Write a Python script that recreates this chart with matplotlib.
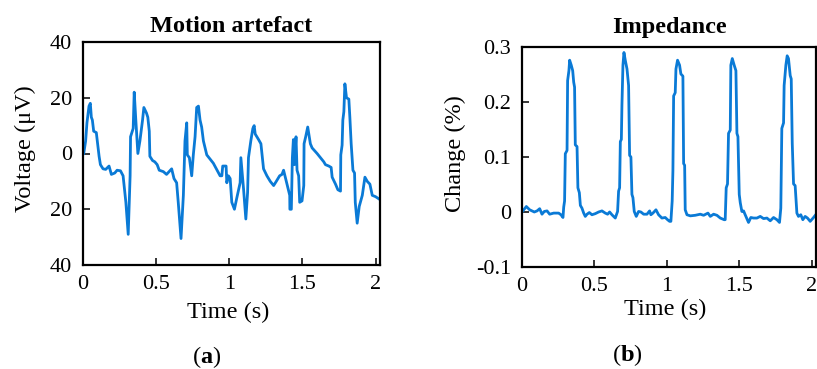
import numpy as np
import matplotlib
matplotlib.use("Agg")
import matplotlib.pyplot as plt

plt.rcParams["font.family"] = ["Liberation Serif", "DejaVu Serif"]
plt.rcParams["mathtext.fontset"] = "custom"
plt.rcParams["mathtext.rm"] = "Liberation Serif"
plt.rcParams["mathtext.bf"] = "Liberation Serif:bold"

# (a) motion artefact, voltage in uV
t_motion = [
    0.005, 0.018, 0.027, 0.041, 0.050, 0.057, 0.064, 0.073, 0.091, 0.103,
    0.110, 0.119, 0.137, 0.155, 0.178, 0.194, 0.217, 0.233, 0.256, 0.274,
    0.293, 0.309, 0.322, 0.325, 0.343, 0.350, 0.361, 0.375, 0.389, 0.407,
    0.416, 0.434, 0.443, 0.453, 0.457, 0.475, 0.491, 0.507, 0.521, 0.549,
    0.571, 0.606, 0.622, 0.640, 0.651, 0.670, 0.686, 0.697, 0.709, 0.713,
    0.727, 0.743, 0.754, 0.766, 0.777, 0.789, 0.800, 0.811, 0.823, 0.846,
    0.891, 0.937, 0.949, 0.955, 0.978, 0.983, 0.994, 1.006, 1.017, 1.035,
    1.051, 1.074, 1.079, 1.097, 1.113, 1.125, 1.131, 1.147, 1.161, 1.170,
    1.177, 1.200, 1.216, 1.234, 1.257, 1.280, 1.303, 1.321, 1.344, 1.360,
    1.371, 1.385, 1.399, 1.413, 1.414, 1.424, 1.431, 1.438, 1.445, 1.456,
    1.463, 1.474, 1.481, 1.497, 1.509, 1.511, 1.522, 1.536, 1.554, 1.566,
    1.600, 1.646, 1.657, 1.680, 1.696, 1.703, 1.726, 1.742, 1.760, 1.762,
    1.771, 1.776, 1.783, 1.790, 1.801, 1.817, 1.824, 1.833, 1.845, 1.856,
    1.861, 1.874, 1.888, 1.909, 1.927, 1.943, 1.961, 1.977, 2.000, 2.023,
]
v_motion = [
    0.0, 4.5, 11, 17, 18, 13, 12, 8, 7.5, 2,
    -1, -4, -5.5, -5.7, -4.5, -7.5, -7, -6, -6.2, -8,
    -17.5, -29, -8, 6, 9, 22, 12, 0, 4.5, 12,
    16.5, 14.5, 13, 8, -1, -2.5, -3, -4, -6, -6.5,
    -7.5, -5.5, -9, -10.5, -17.5, -30.5, -15, 4.5, 11, -0.5,
    -1.5, -8, -0.5, 6, 16.5, 17, 12, 9.5, 4.5, -0.5,
    -3.5, -8, -8, -4.5, -4.5, -10.5, -8, -9, -17.5, -20,
    -16, -10.5, -1.5, -12.5, -23.5, -14, -1.5, 4.5, 9, 10,
    7, 5, 3.5, -5.5, -8, -10, -11.5, -10, -8, -7.5,
    -6, -9, -12, -15, -20, -20, -1.5, 5, -4, 6,
    -6, -8, -17.5, -17, -11.5, 3.5, 6, 9.5, 3.5, 2,
    0, -3, -4, -4.5, -5, -8.5, -11, -13, -13.5, -0.5,
    3, 12, 15, 25, 20, 19.5, 13, 3.5, -6, -7,
    -17.5, -25, -19, -15, -8.5, -10, -11, -15, -15.5, -16.3,
]

# (b) impedance change in %
t_imp = [
    0.000, 0.012, 0.030, 0.053, 0.085, 0.104, 0.122, 0.138, 0.154, 0.173,
    0.191, 0.219, 0.253, 0.269, 0.283, 0.288, 0.294, 0.299, 0.311, 0.315,
    0.324, 0.329, 0.340, 0.350, 0.357, 0.363, 0.368, 0.380, 0.386, 0.396,
    0.403, 0.414, 0.426, 0.437, 0.449, 0.465, 0.483, 0.506, 0.529, 0.552,
    0.575, 0.591, 0.605, 0.621, 0.644, 0.660, 0.667, 0.674, 0.679, 0.686,
    0.690, 0.697, 0.704, 0.713, 0.725, 0.736, 0.743, 0.752, 0.759, 0.766,
    0.775, 0.789, 0.805, 0.821, 0.840, 0.863, 0.881, 0.890, 0.904, 0.925,
    0.943, 0.966, 0.989, 1.005, 1.019, 1.028, 1.037, 1.042, 1.047, 1.058,
    1.063, 1.074, 1.088, 1.097, 1.111, 1.116, 1.123, 1.127, 1.139, 1.162,
    1.196, 1.231, 1.254, 1.284, 1.300, 1.323, 1.346, 1.369, 1.396, 1.403,
    1.410, 1.419, 1.426, 1.438, 1.442, 1.452, 1.465, 1.477, 1.484, 1.491,
    1.500, 1.507, 1.518, 1.530, 1.541, 1.564, 1.580, 1.599, 1.622, 1.645,
    1.668, 1.691, 1.714, 1.737, 1.760, 1.778, 1.787, 1.794, 1.806, 1.810,
    1.822, 1.831, 1.840, 1.852, 1.859, 1.866, 1.875, 1.886, 1.898, 1.909,
    1.925, 1.939, 1.955, 1.971, 1.990, 2.013, 2.031,
]
c_imp = [
    0.000, 0.004, 0.010, 0.004, 0.000, 0.002, 0.006, -0.004, 0.001, 0.002,
    -0.004, -0.002, -0.002, -0.005, -0.010, 0.009, 0.020, 0.106, 0.112, 0.239,
    0.257, 0.276, 0.267, 0.257, 0.236, 0.227, 0.122, 0.119, 0.044, 0.035,
    0.012, 0.007, -0.002, -0.008, -0.004, -0.001, -0.005, -0.003, 0.000, 0.002,
    -0.002, -0.004, 0.000, -0.005, -0.011, 0.001, 0.038, 0.044, 0.128, 0.132,
    0.194, 0.267, 0.290, 0.276, 0.260, 0.230, 0.103, 0.100, 0.032, 0.026,
    0.001, -0.008, 0.001, 0.000, -0.004, -0.004, 0.002, -0.005, -0.002, 0.004,
    -0.005, -0.011, -0.010, -0.014, -0.017, -0.017, 0.020, 0.075, 0.211, 0.217,
    0.260, 0.276, 0.267, 0.251, 0.247, 0.088, 0.085, 0.004, -0.005, -0.007,
    -0.006, -0.004, -0.006, -0.002, -0.008, -0.004, -0.006, -0.011, -0.014, -0.014,
    0.044, 0.051, 0.143, 0.149, 0.267, 0.279, 0.267, 0.257, 0.143, 0.137,
    0.032, 0.017, 0.001, 0.002, -0.005, -0.019, -0.010, -0.011, -0.011, -0.008,
    -0.012, -0.011, -0.016, -0.010, -0.014, -0.019, 0.007, 0.152, 0.162, 0.230,
    0.267, 0.284, 0.279, 0.248, 0.242, 0.125, 0.051, 0.048, -0.002, -0.008,
    -0.005, -0.014, -0.008, -0.011, -0.017, -0.010, -0.004,
]

x_ticks = [0, 0.5, 1, 1.5, 2]
x_labels = ["0", "0.5", "1", "1.5", "2"]
volt_ticks = [40, 20, 0, -20, -40]
volt_labels = ["40", "20", "0", "20", "40"]
imp_ticks = [0.3, 0.2, 0.1, 0, -0.1]
imp_labels = ["0.3", "0.2", "0.1", "0", "-0.1"]

LINE = "#0a7ad6"
W, H = 817, 369

fig = plt.figure(figsize=(W / 100, H / 100), dpi=100)
ax1 = fig.add_axes([83 / W, 1 - 265 / H, (380 - 83) / W, (265 - 42) / H])
ax2 = fig.add_axes([522 / W, 1 - 267 / H, (816 - 522) / W, (267 - 47) / H])


def style(ax):
    for s in ax.spines.values():
        s.set_linewidth(1.6)
    ax.tick_params(direction="in", length=5, width=1.1, labelsize=16,
                   top=False, right=False)
    ax.tick_params(axis="y", pad=8)
    ax.tick_params(axis="x", pad=7)


ax1.plot(t_motion, v_motion, color=LINE, linewidth=2.0)
ax1.set_xlim(0, 2.03)
ax1.set_ylim(-40, 40)
ax1.set_xticks(x_ticks, x_labels)
ax1.set_yticks(volt_ticks, volt_labels)
style(ax1)
ax1.set_title("Motion artefact", fontsize=17.5, fontweight="bold", pad=7)
ax1.set_xlabel("Time (s)", fontsize=17.5, va="center")
ax1.set_ylabel("Voltage (\u03bcV)", fontsize=17.5, va="center")
ax1.xaxis.set_label_coords(0.488, -0.211)
ax1.yaxis.set_label_coords(-0.195, 0.52)

ax2.plot(t_imp, c_imp, color=LINE, linewidth=2.0)
ax2.set_xlim(0, 2.03)
ax2.set_ylim(-0.1, 0.3)
ax2.set_xticks(x_ticks, x_labels)
ax2.set_yticks(imp_ticks, imp_labels)
style(ax2)
ax2.set_title("Impedance", fontsize=17.5, fontweight="bold", pad=10)
ax2.set_xlabel("Time (s)", fontsize=17.5, va="center")
ax2.set_ylabel("Change (%)", fontsize=17.5, va="center")
ax2.xaxis.set_label_coords(0.487, -0.195)
ax2.yaxis.set_label_coords(-0.227, 0.514)

fig.text(207 / W, 1 - 357 / H, r"($\mathbf{a}$)", fontsize=17.5,
         ha="center", va="center")
fig.text(627 / W, 1 - 355 / H, r"($\mathbf{b}$)", fontsize=17.5,
         ha="center", va="center")

fig.savefig("out.png", dpi=100)
